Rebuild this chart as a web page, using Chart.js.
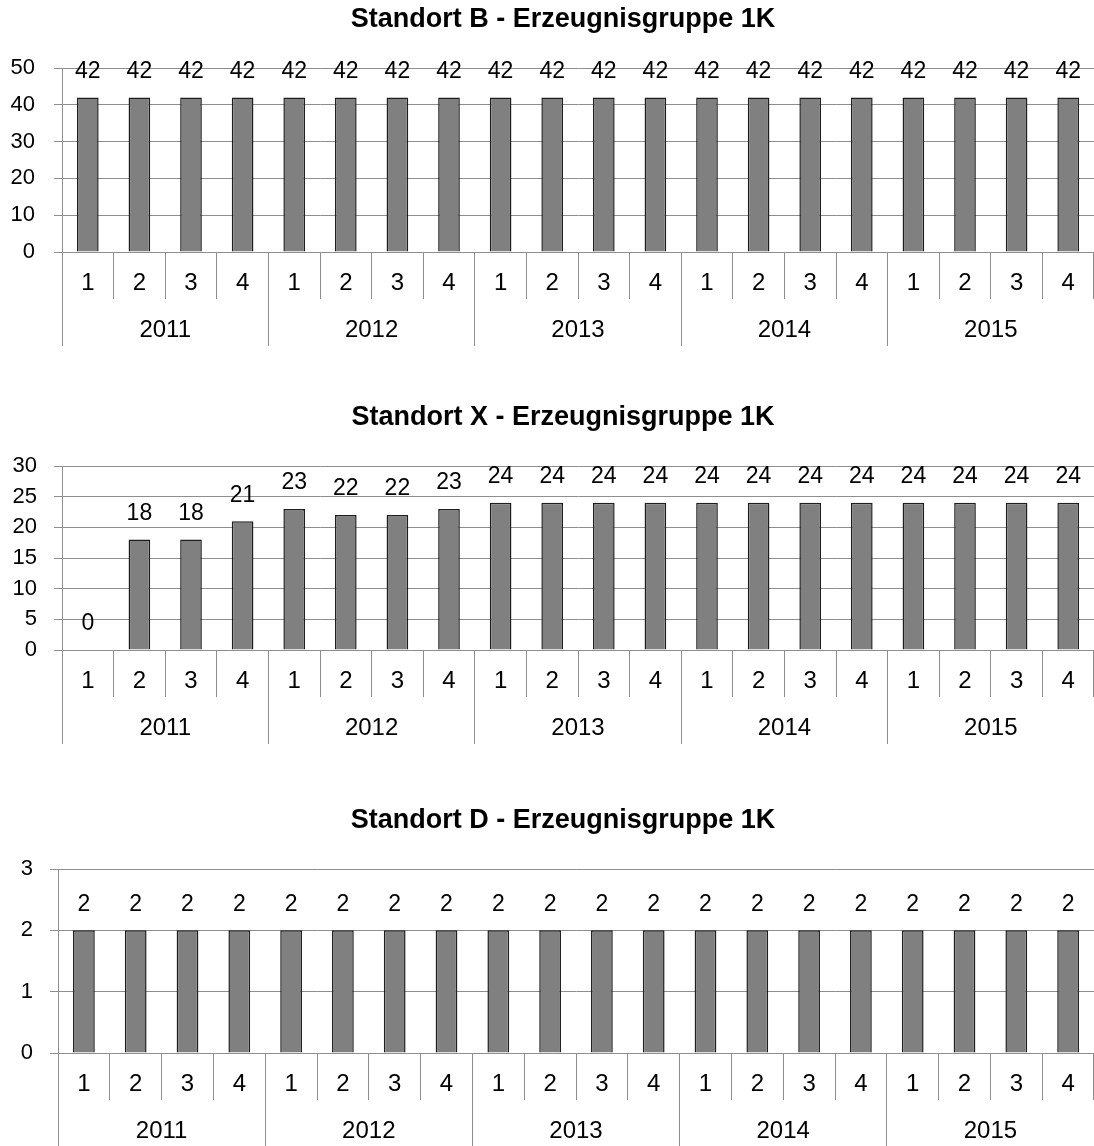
<!DOCTYPE html>
<html>
<head>
<meta charset="utf-8">
<script src="https://cdn.jsdelivr.net/npm/chart.js@4.4.1/dist/chart.umd.min.js"></script>
<style>
  html, body { margin: 0; padding: 0; background: #ffffff; width: 1094px; height: 1146px; overflow: hidden; }
  .panel { position: absolute; left: 0; width: 1094px; }
  canvas { display: block; }
</style>
</head>
<body>
<div class="panel" style="top:0px"><canvas id="chartB" width="1094" height="346"></canvas></div>
<div class="panel" style="top:398px"><canvas id="chartX" width="1094" height="346"></canvas></div>
<div class="panel" style="top:801px"><canvas id="chartD" width="1094" height="346"></canvas></div>
<script>
// Quarter and year labels shared by all three panels
const quarters = ['1', '2', '3', '4', '1', '2', '3', '4', '1', '2', '3', '4',
                  '1', '2', '3', '4', '1', '2', '3', '4'];
const years = ['2011', '2012', '2013', '2014', '2015'];

// Standort B
const titleB = 'Standort B - Erzeugnisgruppe 1K';
const valuesB = [42, 42, 42, 42, 42, 42, 42, 42, 42, 42, 42, 42, 42, 42, 42, 42, 42, 42, 42, 42];
const yTicksB = [0, 10, 20, 30, 40, 50];

// Standort X
const titleX = 'Standort X - Erzeugnisgruppe 1K';
const valuesX = [0, 18, 18, 21, 23, 22, 22, 23, 24, 24, 24, 24, 24, 24, 24, 24, 24, 24, 24, 24];
const yTicksX = [0, 5, 10, 15, 20, 25, 30];

// Standort D
const titleD = 'Standort D - Erzeugnisgruppe 1K';
const valuesD = [2, 2, 2, 2, 2, 2, 2, 2, 2, 2, 2, 2, 2, 2, 2, 2, 2, 2, 2, 2];
const yTicksD = [0, 1, 2, 3];

const FONT = '"Liberation Sans", Arial, Helvetica, sans-serif';
const GRID = '#8e8e8e';

// Writes each bar's value above it
const valueLabels = {
  id: 'valueLabels',
  afterDatasetsDraw(chart) {
    const ctx = chart.ctx;
    const meta = chart.getDatasetMeta(0);
    const data = chart.data.datasets[0].data;
    ctx.save();
    ctx.font = '23px ' + FONT;
    ctx.fillStyle = '#000000';
    ctx.textAlign = 'center';
    ctx.textBaseline = 'middle';
    meta.data.forEach((bar, i) => {
      ctx.fillText(String(data[i]), bar.x, bar.y - 26);
    });
    ctx.restore();
  }
};

// Bold heading above each panel
const panelTitle = {
  id: 'panelTitle',
  afterDraw(chart, args, opts) {
    const ctx = chart.ctx;
    ctx.save();
    ctx.font = 'bold 27px ' + FONT;
    ctx.fillStyle = '#000000';
    ctx.textAlign = 'center';
    ctx.textBaseline = 'middle';
    ctx.fillText(opts.text, opts.x, opts.y);
    ctx.restore();
  }
};

function makeChart(id, title, values, yTicks, yWidth, yPad) {
  const step = yTicks[1] - yTicks[0];
  return new Chart(document.getElementById(id), {
    type: 'bar',
    data: {
      labels: quarters,
      datasets: [{
        data: values,
        backgroundColor: '#808080',
        borderColor: '#1e1e1e',
        borderWidth: 1.5,
        barPercentage: 0.42,
        categoryPercentage: 1.0
      }]
    },
    options: {
      responsive: false,
      animation: false,
      layout: { padding: { left: 0, right: 0, top: 68, bottom: 0 } },
      plugins: {
        legend: { display: false },
        tooltip: { enabled: false },
        title: { display: false },
        panelTitle: { text: title, x: 563, y: 20 }
      },
      scales: {
        y: {
          min: yTicks[0],
          max: yTicks[yTicks.length - 1],
          ticks: { stepSize: step, color: '#000000', font: { family: FONT, size: 22 }, padding: yPad },
          grid: { color: GRID, lineWidth: 1, tickLength: 8 },
          border: { display: true, color: GRID, width: 1 },
          afterFit(scale) { scale.width = yWidth; }
        },
        x: {
          type: 'category',
          position: 'bottom',
          weight: 0,
          offset: true,
          grid: { offset: true, drawOnChartArea: false, tickLength: 47, color: GRID, lineWidth: 1 },
          border: { display: false },
          ticks: { color: '#000000', font: { family: FONT, size: 24 }, padding: -30,
                   autoSkip: false, maxRotation: 0, minRotation: 0 },
          afterFit(scale) { scale.height = 47; }
        },
        x2: {
          type: 'category',
          axis: 'x',
          position: 'bottom',
          weight: 1,
          labels: years,
          offset: true,
          grid: { offset: true, drawOnChartArea: false, tickLength: 47, color: GRID, lineWidth: 1 },
          border: { display: false },
          ticks: { color: '#000000', font: { family: FONT, size: 24 }, padding: -30,
                   autoSkip: false, maxRotation: 0, minRotation: 0 },
          afterFit(scale) { scale.height = 47; }
        }
      }
    },
    plugins: [valueLabels, panelTitle]
  });
}

makeChart('chartB', titleB, valuesB, yTicksB, 62, 19);
makeChart('chartX', titleX, valuesX, yTicksX, 62, 17);
makeChart('chartD', titleD, valuesD, yTicksD, 58, 17);
</script>
</body>
</html>
